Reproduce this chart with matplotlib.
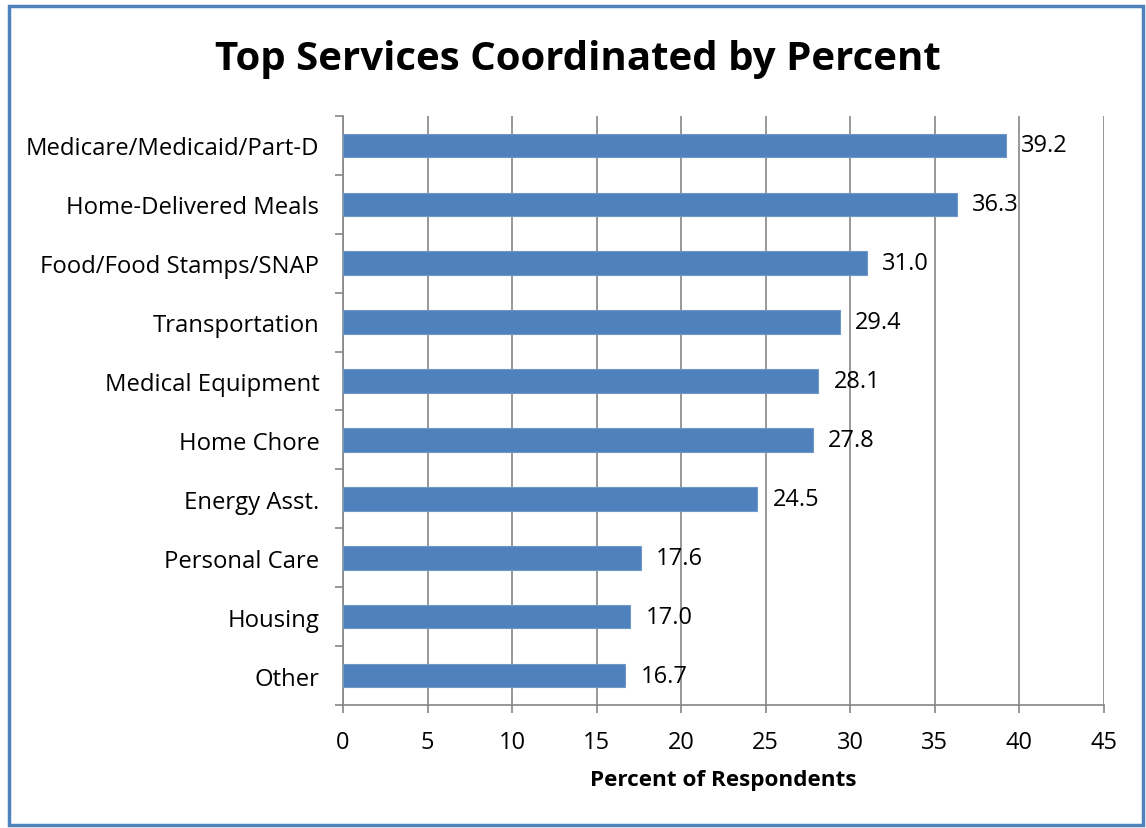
import matplotlib.pyplot as plt
import numpy as np
from matplotlib.patches import Rectangle

categories = ['Medicare/Medicaid/Part-D', 'Home-Delivered Meals', 'Food/Food Stamps/SNAP',
              'Transportation', 'Medical Equipment', 'Home Chore', 'Energy Asst.',
              'Personal Care', 'Housing', 'Other']
values = [39.2, 36.3, 31.0, 29.4, 28.1, 27.8, 24.5, 17.6, 17.0, 16.7]
xticks = [0, 5, 10, 15, 20, 25, 30, 35, 40, 45]

plt.rcParams['font.family'] = ['Open Sans', 'DejaVu Sans']

fig = plt.figure(figsize=(11.46, 8.29), dpi=100)
ax = fig.add_axes([0.2993, 0.1484, 0.664, 0.7105])

n = len(categories)
y = np.arange(n)[::-1]
ax.barh(y, values, height=0.4, color='#4F81BD', edgecolor='#6F97C8', linewidth=0.8, zorder=3)
for yi, v in zip(y, values):
    ax.text(v + 0.9, yi, f'{v:.1f}', va='center', ha='left', fontsize=17, zorder=4)

ax.set_xlim(0, 45)
ax.set_ylim(-0.5, n - 0.5)
ax.set_xticks(xticks)
ax.set_xticklabels([str(t) for t in xticks], fontsize=17)
ax.set_yticks(y)
ax.set_yticklabels(categories, fontsize=17.2)
ax.set_yticks(np.arange(-0.5, n, 1.0), minor=True)
ax.tick_params(axis='y', which='major', length=0, pad=17)
ax.tick_params(axis='y', which='minor', length=6, color='#868686', width=1.2)
ax.tick_params(axis='x', length=6, color='#868686', width=1.2, pad=12)
ax.grid(axis='x', color='#868686', linewidth=1.2, zorder=0)
for s in ['top', 'right']:
    ax.spines[s].set_visible(False)
for s in ['left', 'bottom']:
    ax.spines[s].set_color('#868686')
    ax.spines[s].set_linewidth(1.2)
ax.set_xlabel('Percent of Respondents', fontsize=16.2, fontweight='bold', labelpad=11)

fig.text(0.504, 0.928, 'Top Services Coordinated by Percent', ha='center', va='center',
         fontsize=29, fontweight='bold')

fig.patches.append(Rectangle((0.0075, 0.004), 0.9895, 0.988, transform=fig.transFigure,
                             fill=False, edgecolor='#4F81BD', linewidth=2.5))

fig.savefig('out.png', dpi=100)
